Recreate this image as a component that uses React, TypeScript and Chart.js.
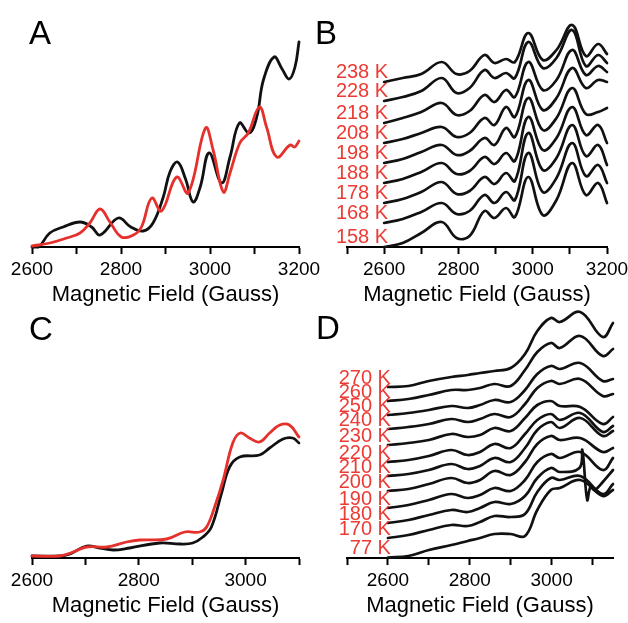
import React, { useEffect, useRef } from 'react';
import { Chart, registerables } from 'chart.js';

Chart.register(...registerables);

const FONT = '"Liberation Sans", Arial, Helvetica, sans-serif';
const BLACK = '#111111';
const RED = '#e5302b';
const LABEL_RED = '#ec3b34';
const AXIS_TITLE = 'Magnetic Field (Gauss)';

// ---------- Panel A ----------
const A_BLACK_FIELD = [2600, 2615, 2640, 2670, 2708, 2734, 2753, 2794, 2822, 2850, 2872, 2895, 2910, 2927, 2945, 2962, 2978, 2998, 3026, 3045, 3066, 3088, 3105, 3120, 3144, 3162, 3178, 3191, 3200];
const A_BLACK = [0, 0, 14, 20, 25, 20, 12, 29, 20, 16, 24, 50, 75, 85, 68, 45, 60, 94, 64, 90, 124, 114, 130, 167, 190, 178, 168, 180, 205];
const A_RED_FIELD = [2600, 2640, 2678, 2708, 2730, 2753, 2775, 2801, 2828, 2846, 2869, 2891, 2925, 2951, 2990, 3007, 3030, 3045, 3067, 3086, 3111, 3127, 3150, 3180, 3190, 3200];
const A_RED = [1, 4, 9, 14, 24, 38, 25, 10, 12, 20, 49, 36, 70, 54, 119, 97, 55, 74, 104, 114, 140, 120, 90, 102, 100, 106];

// ---------- Panel B ----------
const B_FIELD = [2600, 2650, 2700, 2755, 2795, 2830, 2870, 2897, 2928, 2952, 2988, 3027, 3064, 3106, 3143, 3176, 3200];
const B_TEMPS = ['238 K', '228 K', '218 K', '208 K', '198 K', '188 K', '178 K', '168 K', '158 K'];
const B_238 = [165, 169, 173, 185, 173, 176, 192, 184, 188, 185, 214, 187, 197, 222, 191, 203, 193];
const B_228 = [146, 150, 156, 169, 154, 159, 177, 169, 174, 169, 205, 179, 189, 217, 181, 192, 184];
const B_218 = [124, 129, 135, 144, 132, 136, 152, 145, 157, 150, 185, 157, 167, 197, 172, 181, 175];
const B_208 = [104, 108, 114, 120, 110, 114, 129, 122, 140, 130, 167, 137, 149, 179, 159, 167, 165];
const B_198 = [84, 88, 95, 102, 92, 96, 109, 102, 119, 110, 149, 117, 129, 159, 133, 135, 139];
const B_188 = [64, 68, 75, 84, 73, 76, 90, 83, 94, 86, 130, 97, 109, 140, 112, 122, 104];
const B_178 = [44, 48, 55, 65, 53, 56, 70, 63, 74, 66, 114, 77, 89, 122, 91, 102, 82];
const B_168 = [24, 28, 35, 44, 33, 36, 52, 44, 55, 47, 94, 55, 69, 104, 71, 82, 64];
const B_158 = [0, 4, 14, 25, 9, 11, 36, 29, 39, 30, 70, 32, 47, 84, 52, 64, 44];

// ---------- Panel C ----------
const C_RED_FIELD = [2600, 2652, 2677, 2702, 2740, 2777, 2802, 2852, 2886, 2914, 2927, 2942, 2958, 2976, 2990, 3007, 3026, 3045, 3064, 3082, 3100];
const C_RED = [2, 2, 6, 11, 11, 16, 18, 19, 26, 26, 31, 51, 78, 115, 125, 120, 116, 125, 133, 133, 121];
const C_BLACK_FIELD = [2600, 2652, 2671, 2702, 2727, 2752, 2783, 2839, 2877, 2901, 2920, 2936, 2955, 2970, 2989, 3026, 3045, 3070, 3088, 3100];
const C_BLACK = [2, 2, 4, 12, 10, 8, 10, 15, 14, 15, 21, 31, 65, 91, 101, 103, 110, 119, 120, 115];

// ---------- Panel D ----------
const D_FIELD = [2600, 2650, 2700, 2755, 2795, 2825, 2860, 2900, 2935, 2965, 2998, 3020, 3070, 3125, 3150];
const D_SPIKE_FIELD = [2600, 2650, 2700, 2755, 2795, 2825, 2860, 2900, 2935, 2965, 2998, 3020, 3068, 3075, 3087, 3095, 3105, 3125, 3150];
const D_TEMPS = ['270 K', '260 K', '250 K', '240 K', '230 K', '220 K', '210 K', '200 K', '190 K', '180 K', '170 K', '77 K'];
const D_270 = [171, 172, 177, 181, 183, 185, 187, 190, 204, 227, 240, 236, 246, 221, 235];
const D_260 = [157, 159, 163, 168, 168, 170, 174, 172, 188, 206, 215, 210, 222, 202, 209];
const D_250 = [143, 145, 148, 152, 150, 153, 158, 156, 168, 184, 192, 189, 195, 177, 179];
const D_240 = [129, 131, 134, 139, 136, 139, 144, 141, 154, 170, 177, 174, 179, 162, 164];
const D_230 = [113, 115, 118, 124, 121, 123, 130, 127, 140, 153, 157, 152, 151, 134, 141];
const D_220 = [96, 98, 102, 108, 103, 106, 114, 110, 124, 138, 144, 138, 145, 126, 132];
const D_210 = [82, 84, 88, 94, 89, 92, 100, 96, 110, 128, 136, 130, 140, 122, 127];
const D_200 = [67, 69, 74, 80, 75, 78, 87, 83, 96, 114, 122, 118, 120, 106, 110];
const D_190 = [50, 53, 58, 64, 60, 63, 70, 67, 78, 96, 104, 100, 106, 88, 100];
const D_180 = [35, 38, 43, 48, 46, 50, 56, 54, 62, 80, 90, 86, 90, 108, 58, 71, 68, 76, 88];
const D_170 = [20, 23, 28, 33, 32, 36, 42, 41, 44, 66, 80, 78, 82, 64, 74];
const D_77 = [0.5, 2, 8, 13, 17, 20, 24, 24, 22, 48, 68, 70, 78, 62, 68];

type Series = { field: number[]; values: number[]; color: string; label: string; width: number };
type Panel = {
  letter: string;
  letterX: number;
  letterY: number;
  pad: { left: number; top: number; right: number; bottom: number };
  xMin: number;
  xMax: number;
  yMax: number;
  labelFrom: number;
  includeBounds: boolean;
  labelDx: number;
  labelDy: number;
  series: Series[];
};

const blk = (field: number[], values: number[], label: string): Series => ({ field, values, color: BLACK, label, width: 2.7 });

const PANELS: Panel[] = [
  {
    letter: 'A', letterX: 29, letterY: 44,
    pad: { left: 32, top: 37, right: 329, bottom: 312 },
    xMin: 2600, xMax: 3200, yMax: 210, labelFrom: 2600, includeBounds: true, labelDx: 0, labelDy: 0,
    series: [
      { field: A_RED_FIELD, values: A_RED, color: RED, label: '', width: 2.8 },
      { field: A_BLACK_FIELD, values: A_BLACK, color: BLACK, label: '', width: 2.8 },
    ],
  },
  {
    letter: 'B', letterX: 315, letterY: 44,
    pad: { left: 347, top: 10, right: 21, bottom: 312 },
    xMin: 2500, xMax: 3200, yMax: 237, labelFrom: 2600, includeBounds: true, labelDx: 4, labelDy: 10,
    series: [B_238, B_228, B_218, B_208, B_198, B_188, B_178, B_168, B_158].map((v, i) => blk(B_FIELD, v, B_TEMPS[i])),
  },
  {
    letter: 'C', letterX: 29, letterY: 340,
    pad: { left: 32, top: 408, right: 329, bottom: 1 },
    xMin: 2600, xMax: 3100, yMax: 150, labelFrom: 2600, includeBounds: true, labelDx: 0, labelDy: 0,
    series: [
      { field: C_RED_FIELD, values: C_RED, color: RED, label: '', width: 2.8 },
      { field: C_BLACK_FIELD, values: C_BLACK, color: BLACK, label: '', width: 2.8 },
    ],
  },
  {
    letter: 'D', letterX: 316, letterY: 339,
    pad: { left: 347, top: 308, right: 15, bottom: 1 },
    xMin: 2500, xMax: 3150, yMax: 250, labelFrom: 2600, includeBounds: false, labelDx: 3, labelDy: 9,
    series: [D_270, D_260, D_250, D_240, D_230, D_220, D_210, D_200, D_190, D_180, D_170, D_77].map((v, i) =>
      blk(v.length === D_SPIKE_FIELD.length ? D_SPIKE_FIELD : D_FIELD, v, D_TEMPS[i])
    ),
  },
];

const panelText = {
  id: 'panelText',
  afterDatasetsDraw(chart: any, _args: any, opts: any) {
    const ctx = chart.ctx as CanvasRenderingContext2D;
    ctx.save();
    ctx.fillStyle = '#000';
    ctx.font = `33px ${FONT}`;
    ctx.textAlign = 'left';
    ctx.textBaseline = 'alphabetic';
    ctx.fillText(opts.letter, opts.letterX, opts.letterY);
    const xs = chart.scales.x;
    const ys = chart.scales.y;
    ctx.font = `20px ${FONT}`;
    ctx.fillStyle = LABEL_RED;
    ctx.textAlign = 'right';
    ctx.textBaseline = 'middle';
    chart.data.datasets.forEach((ds: any) => {
      if (!ds.label) return;
      const p0 = ds.data[0];
      ctx.fillText(ds.label, xs.getPixelForValue(p0.x) + opts.labelDx, ys.getPixelForValue(p0.y) - opts.labelDy);
    });
    ctx.restore();
  },
};

function PanelChart({ panel }: { panel: Panel }) {
  const ref = useRef<HTMLCanvasElement | null>(null);
  useEffect(() => {
    if (!ref.current) return;
    const chart = new Chart(ref.current, {
      type: 'line',
      data: {
        datasets: panel.series.map((s) => ({
          label: s.label,
          data: s.field.map((g, i) => ({ x: g, y: s.values[i] })),
          borderColor: s.color,
          borderWidth: s.width,
          pointRadius: 0,
          fill: false,
          tension: 0.4,
          borderJoinStyle: 'round' as const,
          borderCapStyle: 'round' as const,
          clip: false as any,
        })),
      },
      options: {
        responsive: false,
        animation: false,
        events: [],
        layout: { padding: panel.pad },
        plugins: {
          legend: { display: false },
          tooltip: { enabled: false },
          panelText: {
            letter: panel.letter,
            letterX: panel.letterX,
            letterY: panel.letterY,
            labelDx: panel.labelDx,
            labelDy: panel.labelDy,
          },
        } as any,
        scales: {
          x: {
            type: 'linear',
            min: panel.xMin,
            max: panel.xMax,
            afterFit: (s: any) => {
              s.height = 64;
              s.paddingLeft = 0;
              s.paddingRight = 0;
            },
            border: { display: true, color: '#000', width: 2 },
            grid: {
              display: true,
              drawOnChartArea: false,
              drawTicks: true,
              tickLength: 7,
              tickWidth: 2,
              tickColor: '#000',
              color: '#000',
            },
            ticks: {
              stepSize: 100,
              autoSkip: false,
              maxRotation: 0,
              minRotation: 0,
              includeBounds: panel.includeBounds,
              color: '#000',
              padding: 4,
              font: { family: FONT, size: 19 },
              callback: (v: any) => {
                const n = Number(v);
                return n >= panel.labelFrom && n % 200 === 0 ? String(n) : '';
              },
            },
            title: {
              display: true,
              text: AXIS_TITLE,
              color: '#000',
              font: { family: FONT, size: 22 },
              padding: { top: 0, bottom: 3 },
            },
          } as any,
          y: { display: false, min: 0, max: panel.yMax },
        },
      },
      plugins: [panelText as any],
    });
    return () => chart.destroy();
  }, [panel]);
  return (
    <canvas
      ref={ref}
      width={628}
      height={623}
      style={{ position: 'absolute', left: 0, top: 0, width: 628, height: 623 }}
    />
  );
}

export default function App() {
  return (
    <div style={{ position: 'fixed', left: 0, top: 0, width: 628, height: 623, background: '#fff', overflow: 'hidden' }}>
      {PANELS.map((p) => (
        <PanelChart key={p.letter} panel={p} />
      ))}
    </div>
  );
}
